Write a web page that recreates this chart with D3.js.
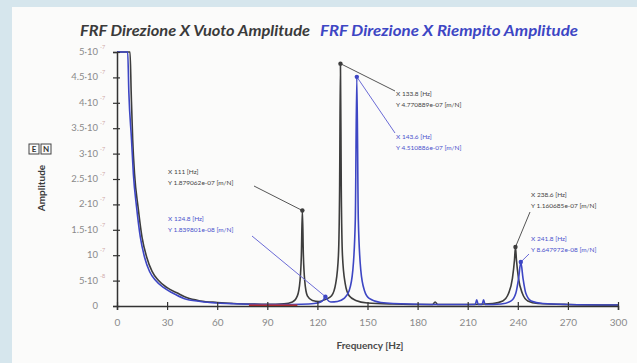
<!DOCTYPE html>
<html>
<head>
<meta charset="utf-8">
<script src="https://cdn.jsdelivr.net/npm/d3@7"></script>
<style>
  body { margin: 0; background: #d6e6ed; }
  svg { display: block; font-family: Lato, "Open Sans", sans-serif; }
</style>
</head>
<body>
<div id="chart"></div>
<script>
// amplitudes in 1e-7 m/N, frequencies in Hz
const freqVuoto = [0, 7.8, 8.5, 9.4, 10.5, 12.6, 15, 17.8, 21, 24.6, 30, 35.8, 42, 50, 60, 70, 80, 90, 100, 105, 108,
  109.6, 110.4, 111, 111.6, 112.4, 114, 117, 121, 125, 128.5, 131, 132.6, 133.3, 133.8, 134.3, 135, 136.6, 139, 143,
  150, 165, 189, 190.5, 192, 210, 225, 231, 234.5, 236.8, 238, 238.6, 239.2, 240.4, 242.7, 246, 252, 270, 300];
const ampVuoto = [5, 5, 4.2, 3.27, 2.6, 1.95, 1.35, 0.96, 0.68, 0.51, 0.36, 0.26, 0.16, 0.1, 0.07, 0.05, 0.04, 0.035, 0.045, 0.08, 0.2,
  0.5, 1.0, 1.879, 1.0, 0.5, 0.2, 0.11, 0.09, 0.13, 0.2, 0.45, 1.0, 2.3, 4.771, 2.3, 1.0, 0.45, 0.2, 0.11,
  0.06, 0.04, 0.03, 0.08, 0.03, 0.03, 0.05, 0.1, 0.25, 0.55, 0.9, 1.161, 0.9, 0.55, 0.25, 0.1, 0.05, 0.03, 0.02];

const freqRiempito = [0, 6.4, 7.1, 8.7, 9.8, 11.7, 14, 16.5, 19.5, 22.9, 28, 33, 40, 50, 60, 70, 80, 90, 100, 110, 118,
  122, 123.8, 124.8, 125.8, 128, 132, 136, 139, 141.2, 142.7, 143.6, 144.5, 146, 148.2, 151, 158, 175, 200,
  214.5, 215.4, 216.3, 218.6, 219.5, 220.4, 230, 236, 238.8, 240.5, 241.8, 243.1, 244.8, 248, 255, 270, 300];
const ampRiempito = [5, 5, 4.2, 3.27, 2.6, 1.95, 1.35, 0.96, 0.68, 0.51, 0.36, 0.26, 0.15, 0.09, 0.06, 0.045, 0.035, 0.03, 0.03, 0.035, 0.05,
  0.08, 0.13, 0.184, 0.13, 0.08, 0.09, 0.15, 0.3, 0.7, 1.7, 4.511, 1.7, 0.7, 0.3, 0.15, 0.07, 0.04, 0.03,
  0.03, 0.12, 0.03, 0.03, 0.12, 0.03, 0.04, 0.1, 0.25, 0.55, 0.865, 0.55, 0.25, 0.1, 0.05, 0.03, 0.02];

const freqRed = [79, 108];
const ampRed = [0.015, 0.015];

const xTicks = [0, 30, 60, 90, 120, 150, 180, 210, 240, 270, 300];
const yTicks = [0, 0.5, 1, 1.5, 2, 2.5, 3, 3.5, 4, 4.5, 5];
const yTickMain = ['0', '5·10', '10', '1.5·10', '2·10', '2.5·10', '3·10', '3.5·10', '4·10', '4.5·10', '5·10'];
const yTickExp = ['', '-8', '-7', '-7', '-7', '-7', '-7', '-7', '-7', '-7', '-7'];

// peak cursors
const peakSeries = ['v', 'r', 'v', 'r', 'v', 'r'];
const peakFreq = [111, 124.8, 133.8, 143.6, 238.6, 241.8];
const peakAmp = [1.879, 0.184, 4.771, 4.511, 1.161, 0.865];
const peakText = [
  ['X 111 [Hz]', 'Y 1.879062e-07 [m/N]'],
  ['X 124.8 [Hz]', 'Y 1.839801e-08 [m/N]'],
  ['X 133.8 [Hz]', 'Y 4.770889e-07 [m/N]'],
  ['X 143.6 [Hz]', 'Y 4.510886e-07 [m/N]'],
  ['X 238.6 [Hz]', 'Y 1.160685e-07 [m/N]'],
  ['X 241.8 [Hz]', 'Y 8.647972e-08 [m/N]']
];
// label boxes: text x, first baseline, leader end
const labelPos = [
  { x: 168, y: 174, lx: 254, ly: 186 },
  { x: 168, y: 221, lx: 252, ly: 236 },
  { x: 396, y: 96, lx: 395, ly: 91 },
  { x: 396, y: 139, lx: 395, ly: 133 },
  { x: 531, y: 197, lx: 530, ly: 212 },
  { x: 531, y: 241, lx: 529, ly: 254 }
];

const W = 637, H = 363;
const black = '#3d3d3d', blue = '#3d46c4';

const svg = d3.select('#chart').append('svg').attr('width', W).attr('height', H);

svg.append('rect').attr('x', 12).attr('y', 7).attr('width', W - 12).attr('height', H - 7).attr('fill', '#fbfbfa');

const x = d3.scaleLinear().domain([0, 300]).range([117, 618]);
const y = d3.scaleLinear().domain([0, 5]).range([306, 52]);

// title
const title = svg.append('g').attr('font-weight', 'bold').attr('font-style', 'italic').attr('font-size', 14.5);
title.append('text').attr('x', 80).attr('y', 36).attr('fill', '#3a3a3a')
  .attr('textLength', 230).attr('lengthAdjust', 'spacingAndGlyphs')
  .text('FRF Direzione X Vuoto Amplitude');
title.append('text').attr('x', 320).attr('y', 36).attr('fill', blue)
  .attr('textLength', 258).attr('lengthAdjust', 'spacingAndGlyphs')
  .text('FRF Direzione X Riempito Amplitude');

// curves
const line = d3.line().x(d => x(d[0])).y(d => y(d[1])).curve(d3.curveMonotoneX);
const series = [
  { f: freqVuoto, a: ampVuoto, c: black, w: 1.6 },
  { f: freqRiempito, a: ampRiempito, c: blue, w: 1.6 },
  { f: freqRed, a: ampRed, c: '#d0302a', w: 1.6 }
];
series.forEach(s => {
  svg.append('path').datum(d3.zip(s.f, s.a)).attr('d', line)
    .attr('fill', 'none').attr('stroke', s.c).attr('stroke-width', s.w).attr('stroke-linejoin', 'round');
});

// axes
const xAxis = svg.append('g').attr('transform', `translate(0,${y(0)})`)
  .call(d3.axisBottom(x).tickValues(xTicks).tickSize(4).tickPadding(9));
xAxis.selectAll('.tick line').attr('y1', -4).attr('stroke', '#333').attr('stroke-width', 1.2);
xAxis.select('.domain').attr('stroke', '#333').attr('stroke-width', 1.5);
xAxis.selectAll('.tick text').attr('fill', '#8a8a8a').attr('font-size', 10).attr('font-family', 'Lato, sans-serif');

const yAxis = svg.append('g').attr('transform', `translate(${x(0)},0)`)
  .call(d3.axisLeft(y).tickValues(yTicks).tickSize(4).tickFormat(''));
yAxis.selectAll('.tick line').attr('x1', 3).attr('stroke', '#333').attr('stroke-width', 1.2);
yAxis.select('.domain').attr('stroke', '#333').attr('stroke-width', 1.5);

const yLab = svg.append('g').attr('font-size', 9.5).attr('fill', '#8a8a8a');
yTicks.forEach((t, i) => {
  yLab.append('text').attr('x', 98).attr('y', y(t) + 3).attr('text-anchor', 'end').text(yTickMain[i]);
  if (yTickExp[i]) {
    yLab.append('text').attr('x', 100).attr('y', y(t) - 3).attr('font-size', 5.5)
      .attr('fill', '#cfa9a9').text(yTickExp[i]);
  }
});

// axis titles
svg.append('text').attr('x', 370).attr('y', 349).attr('text-anchor', 'middle')
  .attr('font-size', 10).attr('font-weight', 'bold').attr('fill', '#4a4a4a').text('Frequency [Hz]');
svg.append('text').attr('transform', 'translate(45,188) rotate(-90)').attr('text-anchor', 'middle')
  .attr('font-size', 10).attr('font-weight', 'bold').attr('fill', '#3a3a3a').text('Amplitude');
const en = svg.append('g').attr('font-size', 8).attr('font-weight', 'bold').attr('fill', '#333');
['E', 'N'].forEach((l, i) => {
  en.append('rect').attr('x', 29 + i * 12).attr('y', 144).attr('width', 10).attr('height', 10)
    .attr('fill', 'none').attr('stroke', '#444').attr('stroke-width', 1);
  en.append('text').attr('x', 34 + i * 12).attr('y', 152).attr('text-anchor', 'middle').text(l);
});

// peak cursors
const ann = svg.append('g');
peakFreq.forEach((f, i) => {
  const c = peakSeries[i] === 'v' ? black : blue;
  const lc = peakSeries[i] === 'v' ? '#555' : '#6b6bd6';
  const p = labelPos[i];
  ann.append('line').attr('x1', x(f)).attr('y1', y(peakAmp[i])).attr('x2', p.lx).attr('y2', p.ly)
    .attr('stroke', lc).attr('stroke-width', 1);
  ann.append('circle').attr('cx', x(f)).attr('cy', y(peakAmp[i])).attr('r', 2.2).attr('fill', c);
  peakText[i].forEach((t, j) => {
    ann.append('text').attr('x', p.x).attr('y', p.y + j * 11).attr('font-size', 6.5)
      .attr('fill', peakSeries[i] === 'v' ? '#444' : '#4a52cc').text(t);
  });
});
</script>
</body>
</html>
